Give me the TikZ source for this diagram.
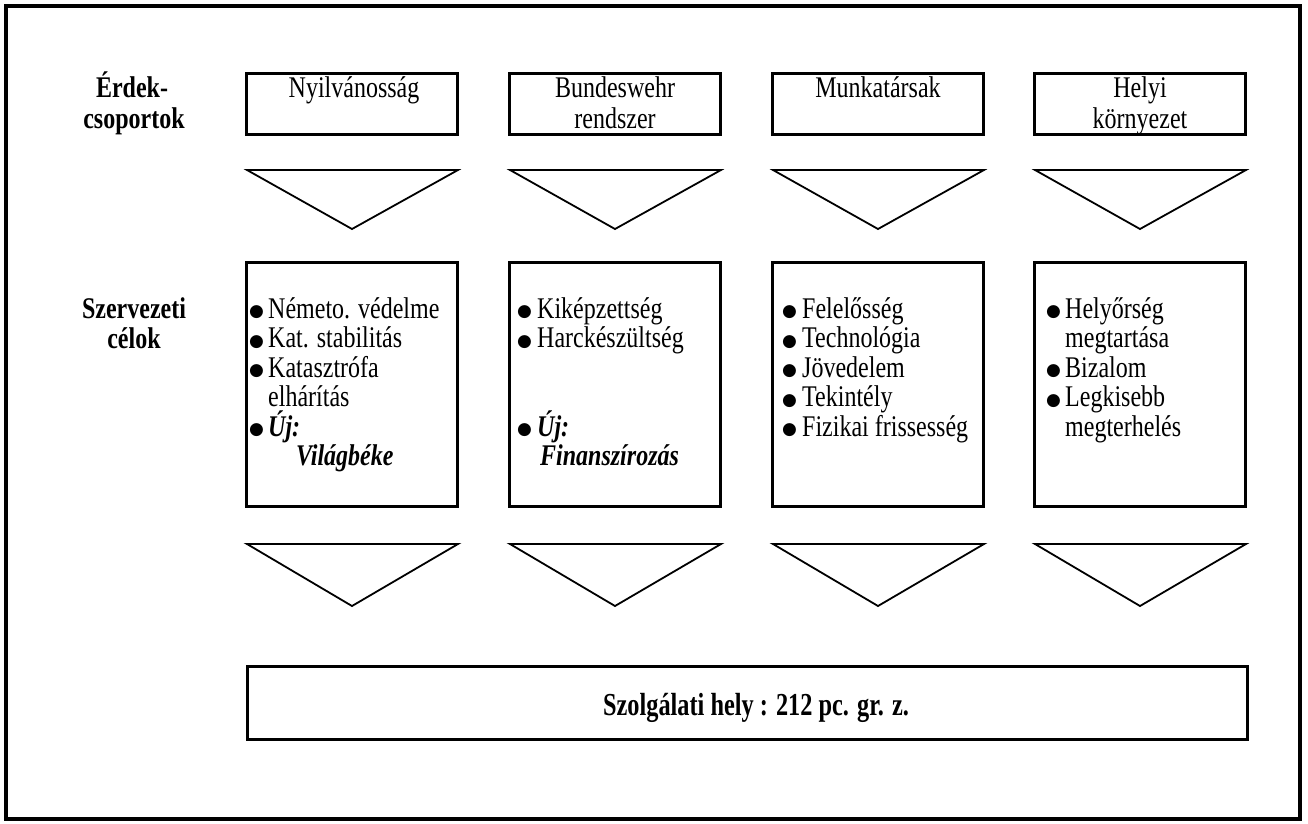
\documentclass[tikz,border=0pt]{standalone}
\usepackage{fontspec}
\setmainfont{Liberation Serif}[FakeStretch=0.8]
\newfontfamily\condfont{Liberation Serif}[FakeStretch=0.76]
\newfontfamily\dotfont{DejaVu Sans}
\newcommand{\bul}[1]{\makebox[#1][l]{\raisebox{1.2pt}{\dotfont\fontsize{17}{17}\selectfont ●}}}
\begin{document}
\begin{tikzpicture}[x=1pt,y=-1pt,
  frame/.style={draw, line width=4pt},
  box/.style={draw, line width=2.8pt, inner sep=0pt, minimum width=211pt},
  tri/.style={draw, line width=1.8pt, line join=miter},
  txt/.style={anchor=base west, inner sep=0pt, font=\fontsize{30}{30}\selectfont},
  ctxt/.style={anchor=base, inner sep=0pt, font=\fontsize{30}{30}\selectfont},
  lbl/.style={anchor=base, inner sep=0pt, font=\fontsize{30}{30}\selectfont\bfseries},
  newtxt/.style={anchor=base west, inner sep=0pt, font=\fontsize{30}{30}\selectfont\bfseries\itshape}
]
\useasboundingbox (0,0) rectangle (1308,823);
\draw[frame] (6,6) rectangle (1300,819);

% labels
\node[lbl] (l1a) at (132,97) {Érdek-};
\node[lbl] (l1b) at (134,128) {csoportok};
\node[lbl] (l2a) at (134,318) {Szervezeti};
\node[lbl] (l2b) at (134,348) {célok};

% boxes and triangles
\foreach \c/\n in {352/1,615/2,878/3,1140/4}{
  \node[box, minimum height=61pt] (t\n) at (\c,104) {};
  \node[box, minimum height=244pt] (m\n) at (\c,384.5) {};
  \draw[tri] (\c-105,170) -- (\c+106,170) -- (\c,229) -- cycle;
  \draw[tri] (\c-105,544) -- (\c+106,544) -- (\c,606) -- cycle;
}

\node[ctxt] (t1a) at (354,97) {Nyilvánosság};
\node[ctxt] (t2a) at (615,97) {Bundeswehr};
\node[ctxt] (t2b) at (615,128) {rendszer};
\node[ctxt] (t3a) at (878,97) {Munkatársak};
\node[ctxt] (t4a) at (1140,97) {Helyi};
\node[ctxt] (t4b) at (1140,128) {környezet};

% column 1
\node[txt] (c1a) at (249,318) {\bul{19pt}Németo. védelme};
\node[txt] (c1b) at (249,347.5) {\bul{19pt}Kat. stabilitás};
\node[txt] (c1c) at (249,377) {\bul{19pt}Katasztrófa};
\node[txt] (c1d) at (268,406.5) {elhárítás};
\node[newtxt] (c1e) at (249,436) {\bul{19pt}Új:};
\node[newtxt] (c1f) at (296,465.5) {Világbéke};

% column 2
\node[txt] (c2a) at (517,318) {\bul{20pt}Kiképzettség};
\node[txt] (c2b) at (517,347.5) {\bul{20pt}Harckészültség};
\node[newtxt] (c2e) at (517,436) {\bul{20pt}Új:};
\node[newtxt] (c2f) at (540,465.5) {Finanszírozás};

% column 3
\node[txt] (c3a) at (782,318) {\bul{20pt}Felelősség};
\node[txt] (c3b) at (782,347.5) {\bul{20pt}Technológia};
\node[txt] (c3c) at (782,377) {\bul{20pt}Jövedelem};
\node[txt] (c3d) at (782,406.5) {\bul{20pt}Tekintély};
\node[txt] (c3e) at (782,436) {\bul{20pt}Fizikai frissesség};

% column 4
\node[txt] (c4a) at (1046,318) {\bul{19pt}Helyőrség};
\node[txt] (c4b) at (1065,347.5) {megtartása};
\node[txt] (c4c) at (1046,377) {\bul{19pt}Bizalom};
\node[txt] (c4d) at (1046,406.5) {\bul{19pt}Legkisebb};
\node[txt] (c4e) at (1065,436) {megterhelés};

% bottom box
\node[box, minimum width=1000pt, minimum height=73pt] (bot) at (747.5,703) {};
\node[anchor=base, inner sep=0pt, font=\condfont\fontsize{32}{32}\selectfont\bfseries] (bottxt) at (756,715) {Szolgálati hely : 212 pc. gr. z.};
\end{tikzpicture}
\end{document}
